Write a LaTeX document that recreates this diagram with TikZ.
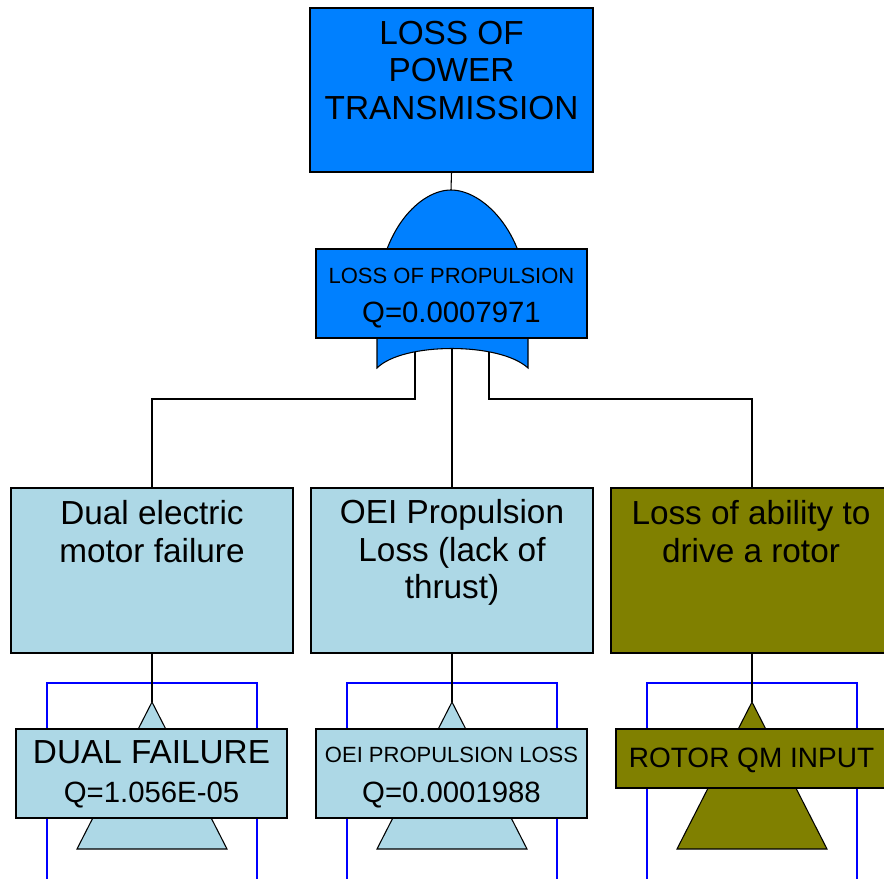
\documentclass[tikz,border=0pt]{standalone}
\usepackage{fontspec}
\setmainfont{Liberation Sans}
\usepackage{xcolor}
\usetikzlibrary{positioning}
\definecolor{topbl}{RGB}{0,128,255}
\definecolor{ltbl}{RGB}{173,216,230}
\definecolor{olv}{RGB}{128,128,0}
\newcommand{\BigF}{\fontsize{25}{28}\selectfont}
\newcommand{\SmF}{\fontsize{16.5}{29.5}\selectfont}
\newcommand{\QF}{\fontsize{22}{29.5}\selectfont}
\newcommand{\InF}{\fontsize{21}{25}\selectfont}

\begin{document}
\begin{tikzpicture}[x=0.75pt,y=-0.75pt,
  evbox/.style={draw=black,line width=0.8pt,inner sep=0pt},
  bigtxt/.style={align=center,font=\BigF,inner sep=0pt},
  qtxt/.style={align=center,font=\QF,inner sep=0pt},
  wire/.style={draw=black,line width=0.8pt},
  frame/.style={draw=blue,line width=0.9pt}]
  \useasboundingbox (0,0) rectangle (884,878);
  \clip (0,0) rectangle (884,878);

  % top event
  \node[evbox,fill=topbl,minimum width=212.25pt,minimum height=123pt] (top) at (451.5,90) {};
  \node[bigtxt] (toptxt) at (451.5,70.5) {LOSS OF\\POWER\\TRANSMISSION};

  % or gate
  \coordinate (gtop) at (451,190);
  \draw[wire,fill=topbl] (377,368) -- (377,300) .. controls (380,230) and (420,190) .. (gtop)
    .. controls (482,190) and (525,230) .. (528,300) -- (528,368)
    .. controls (500,342) and (403,342) .. cycle;
  \coordinate (gl) at (415,352);
  \coordinate (gm) at (452,348);
  \coordinate (gr) at (489,352);
  \node[evbox,fill=topbl,minimum width=203.25pt,minimum height=66.75pt] (gate) at (451.5,293.5) {};
  \node[qtxt] (gatetxt) at (451.5,298) {{\SmF LOSS OF PROPULSION}\\Q=0.0007971};
  \draw[wire] (top.south) -- (gtop);

  % middle row
  \node[evbox,fill=ltbl,minimum width=211.5pt,minimum height=123.75pt] (m1) at (152,570.5) {};
  \node[evbox,fill=ltbl,minimum width=211.5pt,minimum height=123.75pt] (m2) at (452,570.5) {};
  \node[evbox,fill=olv,minimum width=211.5pt,minimum height=123.75pt] (m3) at (752,570.5) {};
  \node[bigtxt] (m1txt) at (152,531.5) {Dual electric\\motor failure};
  \node[bigtxt] (m2txt) at (452,552.5) {OEI Propulsion\\Loss (lack of\\thrust)};
  \node[bigtxt] (m3txt) at (751,531.5) {Loss of ability to\\drive a rotor};

  \draw[wire] (gl) -- ++(0,47) -| (m1.north);
  \draw[wire] (gm) -- (m2.north);
  \draw[wire] (gr) -- ++(0,47) -| (m3.north);

  % bottom row
  \coordinate (t1) at (152,702);
  \coordinate (t2) at (452,702);
  \coordinate (t3) at (752,702);
  \draw[frame] (47,890) -- (47,683) -- (257,683) -- (257,890);
  \draw[frame] (347,890) -- (347,683) -- (557,683) -- (557,890);
  \draw[frame] (647,890) -- (647,683) -- (857,683) -- (857,890);
  \draw[wire,fill=ltbl] (t1) -- ++(-75,147) -- ++(150,0) -- cycle;
  \draw[wire,fill=ltbl] (t2) -- ++(-75,147) -- ++(150,0) -- cycle;
  \draw[wire,fill=olv] (t3) -- ++(-75,147) -- ++(150,0) -- cycle;
  \node[evbox,fill=ltbl,minimum width=203.25pt,minimum height=66.75pt] (b1) at (151.5,773.5) {};
  \node[evbox,fill=ltbl,minimum width=203.25pt,minimum height=66.75pt] (b2) at (451.5,773.5) {};
  \node[evbox,fill=olv,minimum width=203.25pt,minimum height=44.25pt] (b3) at (751.5,758.5) {};
  \node[qtxt] (b1txt) at (151.5,774.5) {{\BigF DUAL FAILURE}\\Q=1.056E-05};
  \node[qtxt] (b2txt) at (451.5,777.5) {{\SmF OEI PROPULSION LOSS}\\Q=0.0001988};
  \node[inner sep=0pt,font=\InF] (b3txt) at (751.5,760) {ROTOR QM INPUT};

  \draw[wire] (m1.south) -- (t1);
  \draw[wire] (m2.south) -- (t2);
  \draw[wire] (m3.south) -- (t3);
\end{tikzpicture}
\end{document}
